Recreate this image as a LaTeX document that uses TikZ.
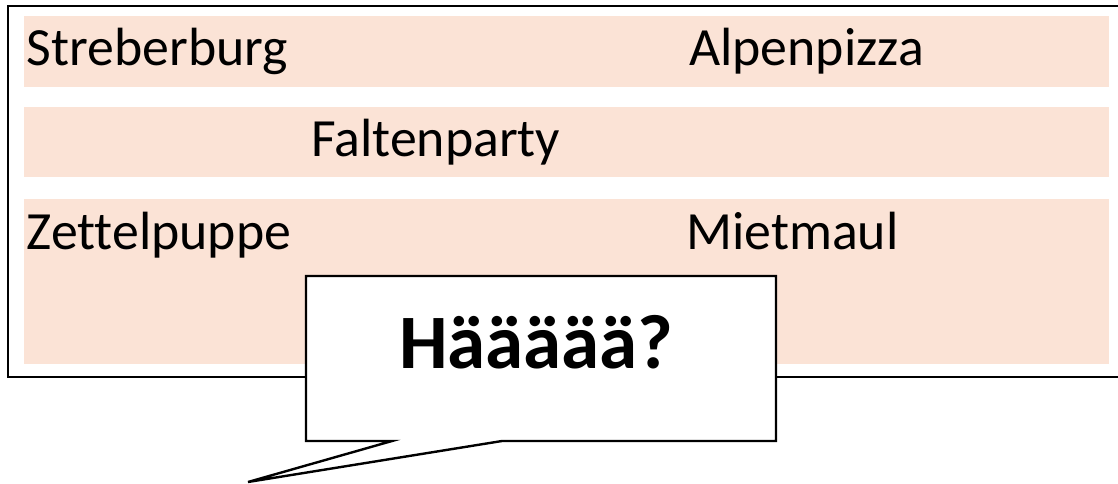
\documentclass[tikz,border=0pt]{standalone}
\usepackage{fontspec}
\setmainfont{Carlito}[Ligatures=NoCommon]
\definecolor{bandpink}{HTML}{FBE3D6}
\begin{document}
\begin{tikzpicture}[x=1pt,y=-1pt,
  lbl/.style={anchor=base west,inner sep=0pt,font=\fontsize{53.8}{60}\selectfont},
  band/.style={fill=bandpink,draw=none},
  frame/.style={draw=black,line width=2.4pt},
  bubble/.style={draw=black,fill=white,line width=2.4pt,line join=miter}]
\useasboundingbox (0,0) rectangle (1118,484);
\draw[frame] (8,6) rectangle (1122,377);
\fill[band] (24,16) rectangle (1109,87);
\fill[band] (24,107) rectangle (1109,177);
\fill[band] (24,199) rectangle (1109,364);
\node[lbl] (streberburg) at (26.5,66) {Streberburg};
\node[lbl] (alpenpizza) at (689,66) {Alpenpizza};
\node[lbl] (faltenparty) at (311,157) {Faltenparty};
\node[lbl] (zettelpuppe) at (26.5,249) {Zettelpuppe};
\node[lbl] (mietmaul) at (686,249) {Mietmaul};
\draw[bubble] (306,276) -- (776,276) -- (776,441) -- (502,441) -- (248,482) -- (392,441) -- (306,441) -- cycle;
\node[anchor=base west,inner sep=0pt,font=\fontsize{77}{84}\selectfont\bfseries] (haeh) at (399,368) {Häääää?};
\end{tikzpicture}
\end{document}
